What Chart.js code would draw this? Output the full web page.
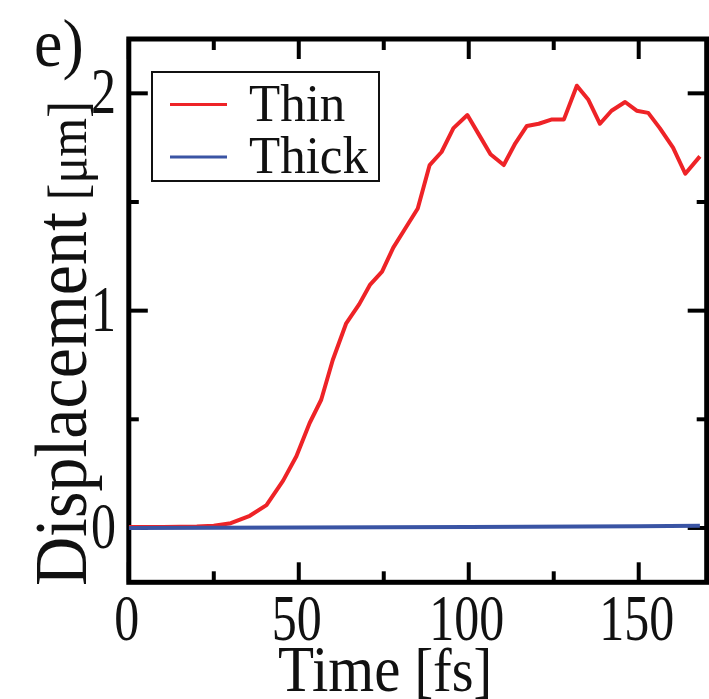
<!DOCTYPE html>
<html>
<head>
<meta charset="utf-8">
<script src="https://cdn.jsdelivr.net/npm/chart.js@4/dist/chart.umd.min.js"></script>
<style>
  html, body { margin: 0; padding: 0; background: #fff; }
  #wrap { width: 709px; height: 699px; }
</style>
</head>
<body>
<div id="wrap"><canvas id="c" width="709" height="699"></canvas></div>
<script>
// ---- Data ----
const thinTimes  = [0, 10, 20, 25, 30, 35.6, 40.5, 45.4, 49.3, 53.2, 56.6, 60.0, 63.9, 67.8, 71.0, 74.5, 77.8, 81.0, 85.0, 88.5, 92.0, 95.5, 99.6, 103.0, 106.4, 110.3, 113.7, 117.1, 120.6, 124.5, 128.0, 131.8, 135.2, 138.6, 142.0, 146.0, 149.4, 152.8, 156.2, 160.1, 163.7, 168.0];
const thinValues = [0.005, 0.005, 0.007, 0.01, 0.022, 0.056, 0.105, 0.218, 0.33, 0.483, 0.59, 0.773, 0.94, 1.03, 1.12, 1.18, 1.29, 1.37, 1.47, 1.67, 1.73, 1.84, 1.90, 1.81, 1.72, 1.67, 1.77, 1.85, 1.86, 1.88, 1.88, 2.035, 1.97, 1.86, 1.92, 1.96, 1.92, 1.91, 1.84, 1.75, 1.63, 1.71];
const thickTimes  = [0, 50, 100, 150, 168];
const thickValues = [0, 0.002, 0.005, 0.008, 0.01];

const seriesLabels = ['Thin', 'Thick'];
const seriesColors = ['#ee2327', '#3a54a4'];

const xMajorTicks = [0, 50, 100, 150];
const xMinorTicks = [25, 75, 125];
const xTickLabels = ['0', '50', '100', '150'];
const yMajorTicks = [0, 1, 2];
const yMinorTicks = [0.5, 1.5];
const yTickLabels = ['0', '1', '2'];

const xTitleMain = 'Time', xTitleUnit = '[fs]';
const yTitleMain = 'Displacement', yTitleUnit = '[\u03bcm]';
const panelLabel = 'e)';

const SERIF = '"Liberation Serif", "Times New Roman", serif';

function toPoints(xs, ys) { return xs.map((x, i) => ({ x: x, y: ys[i] })); }

function stretchedText(ctx, text, x, y, size, sy, align, rot) {
  ctx.save();
  ctx.translate(x, y);
  if (rot) ctx.rotate(rot);
  ctx.scale(1, sy);
  ctx.font = size + 'px ' + SERIF;
  ctx.textAlign = align || 'left';
  ctx.textBaseline = 'alphabetic';
  ctx.fillStyle = '#111';
  ctx.fillText(text, 0, 0);
  const w = ctx.measureText(text).width;
  ctx.restore();
  return w;
}

const framePlugin = {
  id: 'frame',
  beforeDatasetsDraw(chart) {
    const ctx = chart.ctx, a = chart.chartArea;
    const xs = chart.scales.x, ys = chart.scales.y;
    ctx.save();
    ctx.strokeStyle = '#000';
    ctx.lineWidth = 5;
    ctx.strokeRect(a.left, a.top, a.right - a.left, a.bottom - a.top);
    ctx.lineWidth = 4;
    ctx.lineCap = 'butt';
    const tick = (x1, y1, x2, y2) => { ctx.beginPath(); ctx.moveTo(x1, y1); ctx.lineTo(x2, y2); ctx.stroke(); };
    xMajorTicks.forEach(v => { const p = xs.getPixelForValue(v); tick(p, a.bottom, p, a.bottom - 20); tick(p, a.top, p, a.top + 20); });
    xMinorTicks.forEach(v => { const p = xs.getPixelForValue(v); tick(p, a.bottom, p, a.bottom - 11); tick(p, a.top, p, a.top + 11); });
    yMajorTicks.forEach(v => { const p = ys.getPixelForValue(v); tick(a.left, p, a.left + 19, p); tick(a.right, p, a.right - 19, p); });
    yMinorTicks.forEach(v => { const p = ys.getPixelForValue(v); tick(a.left, p, a.left + 10, p); tick(a.right, p, a.right - 10, p); });
    ctx.restore();
  },
  afterDraw(chart) {
    const ctx = chart.ctx;
    const xs = chart.scales.x, ys = chart.scales.y;
    // tick labels
    xMajorTicks.forEach((v, i) => {
      stretchedText(ctx, xTickLabels[i], xs.getPixelForValue(v) - 2, 640, 50, 1.3, 'center');
    });
    yMajorTicks.forEach((v, i) => {
      stretchedText(ctx, yTickLabels[i], 116, ys.getPixelForValue(v) + 20, 50, 1.3, 'right');
    });
    // x title
    let w = stretchedText(ctx, xTitleMain, 278, 691, 59, 1.1, 'left');
    stretchedText(ctx, xTitleUnit, 278 + w + 14, 691, 56, 1.1, 'left');
    // y title (rotated)
    w = stretchedText(ctx, yTitleMain, 86, 586, 68, 1.1, 'left', -Math.PI / 2);
    stretchedText(ctx, yTitleUnit, 86, 586 - w - 12, 50, 1.1, 'left', -Math.PI / 2);
    // panel label
    stretchedText(ctx, panelLabel, 34, 66, 64, 1.05, 'left');
    // legend
    ctx.save();
    ctx.fillStyle = '#fff';
    ctx.fillRect(152, 72, 227, 109);
    ctx.strokeStyle = '#111';
    ctx.lineWidth = 2;
    ctx.strokeRect(152, 72, 227, 109);
    const rows = [104.5, 157];
    seriesLabels.forEach((lab, i) => {
      ctx.strokeStyle = seriesColors[i];
      ctx.lineWidth = 3;
      ctx.beginPath(); ctx.moveTo(170, rows[i]); ctx.lineTo(227, rows[i]); ctx.stroke();
      stretchedText(ctx, lab, 249, rows[i] + 16, 51, 1.04, 'left');
    });
    ctx.restore();
  }
};

new Chart(document.getElementById('c'), {
  type: 'line',
  data: {
    datasets: [
      { label: seriesLabels[0], data: toPoints(thinTimes, thinValues), borderColor: seriesColors[0], borderWidth: 4, pointRadius: 0, tension: 0, order: 2, borderJoinStyle: 'round' },
      { label: seriesLabels[1], data: toPoints(thickTimes, thickValues), borderColor: seriesColors[1], borderWidth: 4, pointRadius: 0, tension: 0, order: 1 }
    ]
  },
  options: {
    responsive: false,
    animation: false,
    events: [],
    layout: { padding: { left: 0, right: 2.3, top: 39, bottom: 0 } },
    plugins: { legend: { display: false }, tooltip: { enabled: false } },
    scales: {
      x: {
        type: 'linear', min: 0, max: 170,
        grid: { display: false }, border: { display: false },
        ticks: { display: false },
        afterFit(s) { s.height = 116.7; }
      },
      y: {
        type: 'linear', min: -0.25, max: 2.25,
        grid: { display: false }, border: { display: false },
        ticks: { display: false },
        afterFit(s) { s.width = 128.8; }
      }
    }
  },
  plugins: [framePlugin]
});
</script>
</body>
</html>
